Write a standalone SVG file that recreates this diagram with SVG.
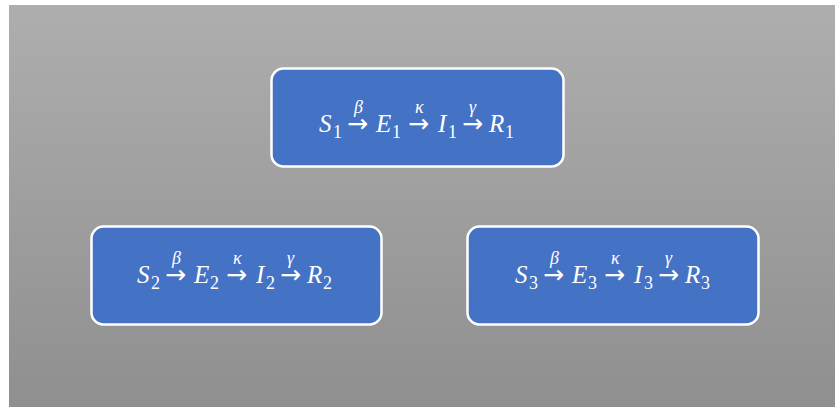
<svg xmlns="http://www.w3.org/2000/svg" width="835" height="407" viewBox="0 0 835 407">
<defs>
<linearGradient id="bg" x1="0" y1="0" x2="0" y2="1">
<stop offset="0" stop-color="#aeaeae"/>
<stop offset="1" stop-color="#8f8f8f"/>
</linearGradient>
</defs>
<style>
.box{fill:#4472c4;stroke:#ffffff;stroke-width:2.5}
.m{font-family:"Liberation Serif","DejaVu Serif",serif;font-style:italic;font-size:25px;fill:#ffffff}
.s{font-family:"Liberation Serif","DejaVu Serif",serif;font-size:18px;fill:#ffffff}
.g{font-family:"Liberation Serif","DejaVu Serif",serif;font-style:italic;font-size:18px;fill:#ffffff}
.a{font-family:"DejaVu Sans",sans-serif;font-size:25px;fill:#ffffff}
</style>
<rect x="0" y="0" width="835" height="407" fill="#ffffff"/>
<rect x="9" y="5" width="826" height="402" fill="url(#bg)"/>
<g id="node1">
<rect class="box" x="271.5" y="68.5" width="292" height="98" rx="12"/>
<text class="m" x="319" y="132">S</text><text class="s" x="333" y="138">1</text>
<text class="a" x="347" y="132">→</text><text class="g" x="354" y="113">β</text>
<text class="m" x="376" y="132">E</text><text class="s" x="392" y="138">1</text>
<text class="a" x="408" y="132">→</text><text class="g" x="415" y="113">κ</text>
<text class="m" x="438" y="132">I</text><text class="s" x="448" y="138">1</text>
<text class="a" x="462" y="132">→</text><text class="g" x="469" y="113">γ</text>
<text class="m" x="489" y="132">R</text><text class="s" x="505" y="138">1</text>
</g>
<g id="node2" transform="translate(-182,0)">
<rect class="box" x="273.5" y="226.5" width="290" height="98" rx="12"/>
<g transform="translate(0,151)">
<text class="m" x="319" y="132">S</text><text class="s" x="333" y="138">2</text>
<text class="a" x="347" y="132">→</text><text class="g" x="354" y="113">β</text>
<text class="m" x="376" y="132">E</text><text class="s" x="392" y="138">2</text>
<text class="a" x="408" y="132">→</text><text class="g" x="415" y="113">κ</text>
<text class="m" x="438" y="132">I</text><text class="s" x="448" y="138">2</text>
<text class="a" x="462" y="132">→</text><text class="g" x="469" y="113">γ</text>
<text class="m" x="489" y="132">R</text><text class="s" x="505" y="138">2</text>
</g>
</g>
<g id="node3" transform="translate(196,0)">
<rect class="box" x="271.5" y="226.5" width="291" height="98" rx="12"/>
<g transform="translate(0,151)">
<text class="m" x="319" y="132">S</text><text class="s" x="333" y="138">3</text>
<text class="a" x="347" y="132">→</text><text class="g" x="354" y="113">β</text>
<text class="m" x="376" y="132">E</text><text class="s" x="392" y="138">3</text>
<text class="a" x="408" y="132">→</text><text class="g" x="415" y="113">κ</text>
<text class="m" x="438" y="132">I</text><text class="s" x="448" y="138">3</text>
<text class="a" x="462" y="132">→</text><text class="g" x="469" y="113">γ</text>
<text class="m" x="489" y="132">R</text><text class="s" x="505" y="138">3</text>
</g>
</g>
<g id="connectors"></g>
</svg>
